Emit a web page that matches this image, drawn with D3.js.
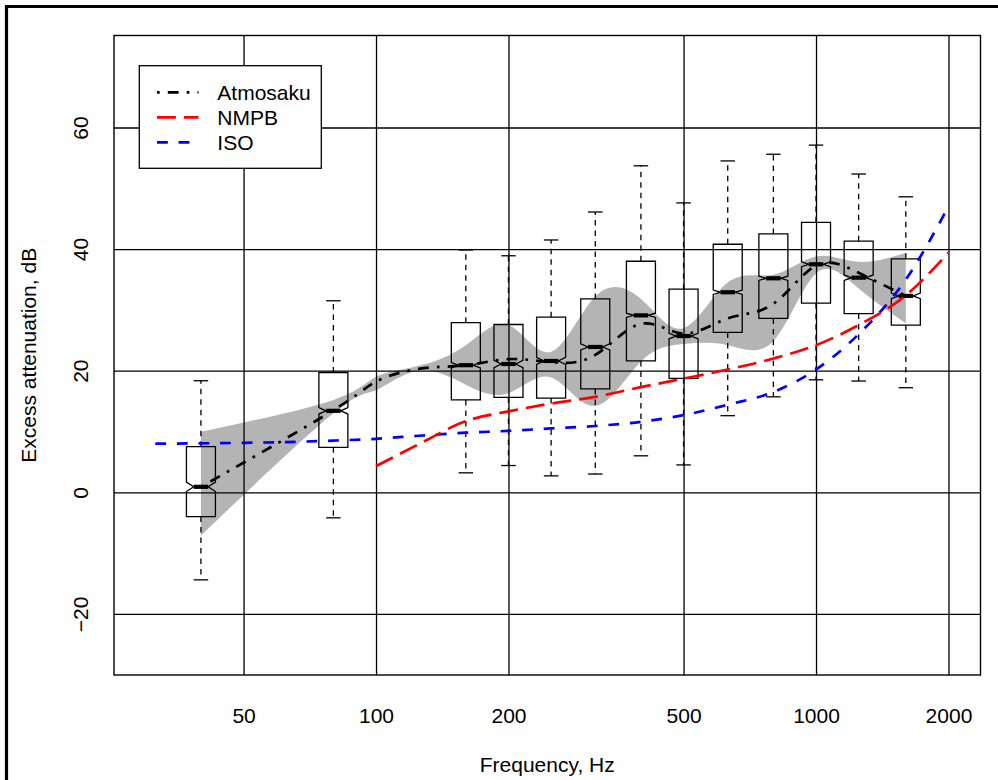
<!DOCTYPE html>
<html>
<head>
<meta charset="utf-8">
<script src="https://cdn.jsdelivr.net/npm/d3@7"></script>
<style>
  html, body { margin: 0; padding: 0; background: #fff; }
  svg { display: block; }
  text { font-family: "Liberation Sans", Arial, Helvetica, sans-serif; fill: #000; }
</style>
</head>
<body>
<svg id="chart" width="998" height="780"></svg>
<script>
// Measured excess attenuation per 1/3-octave band (notched boxplots)
const bandFreq    = [40, 80, 160, 200, 250, 315, 400, 500, 630, 800, 1000, 1250, 1600];
const whiskerLow  = [-14.4, -4.2, 3.2, 4.4, 2.7, 3.0, 6.0, 4.5, 12.6, 15.7, 18.5, 18.3, 17.2];
const q1          = [-4.0, 7.4, 15.2, 15.6, 15.5, 17.0, 21.6, 18.75, 26.3, 28.6, 31.1, 29.4, 27.5];
const median      = [0.9, 13.4, 20.9, 21.1, 21.6, 23.9, 29.1, 25.7, 32.9, 35.2, 37.5, 35.3, 32.3];
const q3          = [7.5, 19.7, 27.9, 27.6, 28.8, 31.8, 38.0, 33.4, 40.8, 42.5, 44.4, 41.3, 38.4];
const whiskerHigh = [18.35, 31.5, 39.85, 38.9, 41.5, 46.1, 53.7, 47.6, 54.5, 55.6, 57.1, 52.35, 48.6];
const notchHalf   = [0.77, 0.53, 0.44, 0.6, 0.58, 0.5, 0.35, 0.45, 0.35, 0.35, 0.4, 0.45, 0.45];

// Atmosaku model curve with its confidence band
const modelFreq     = [40, 80, 100, 125, 160, 200, 250, 315, 400, 500, 630, 800, 1000, 1250, 1600];
const atmosaku      = [0.9, 13.5, 18.2, 20.3, 20.9, 21.9, 21.4, 22.6, 27.7, 26.1, 28.6, 31.0, 37.3, 36.1, 32.3];
const atmosakuUpper = [9.96, 15.2, 19.0, 20.8, 24.2, 27.5, 23.1, 32.2, 31.8, 27.0, 34.5, 35.8, 38.8, 37.9, 39.4];
const atmosakuLower = [-7.1, 13.0, 16.8, 20.0, 17.7, 16.3, 18.9, 14.2, 21.5, 24.4, 24.2, 24.9, 36.0, 33.5, 27.8];

// Reference methods
const nmpbFreq = [100, 125, 160, 200, 250, 315, 400, 500, 630, 800, 1000, 1250, 1600, 2000];
const nmpb     = [4.3, 7.9, 11.7, 13.3, 14.6, 15.7, 17.3, 18.7, 20.2, 22.0, 24.2, 27.5, 32.4, 39.4];
const isoFreq  = [31.5, 40, 80, 100, 125, 160, 200, 250, 315, 400, 500, 630, 800, 1000, 1250, 1600, 2000];
const iso      = [8.0, 8.05, 8.5, 8.8, 9.3, 9.8, 10.1, 10.5, 10.9, 11.6, 12.7, 14.4, 16.5, 20.2, 26.0, 35.0, 47.0];

const xTicks = [50, 100, 200, 500, 1000, 2000];
const yTicks = [-20, 0, 20, 40, 60];
const legendLabels = ["Atmosaku", "NMPB", "ISO"];
const xTitle = "Frequency, Hz";
const yTitle = "Excess attenuation, dB";

// ---- layout ----
const plot = { left: 114, right: 980.5, top: 35.5, bottom: 675 };
const svg = d3.select("#chart");

const x = d3.scaleLog().domain([25.38, 2365]).range([plot.left, plot.right]);
const y = d3.scaleLinear().domain([-30.05, 75.13]).range([plot.bottom, plot.top]);

const LW = 2.7; // model/reference line width
const dotdash = [1 * LW, 3 * LW, 4 * LW, 3 * LW].join(",");
const longdash = [7 * LW, 3 * LW].join(",");
const dashed = [4 * LW, 4 * LW].join(",");

// outer figure frame
svg.append("path")
  .attr("d", "M6.5,782 V6.5 H1000")
  .attr("fill", "none").attr("stroke", "#000").attr("stroke-width", 3.2);

// confidence band
const bandData = modelFreq.map((f, i) => ({ f, lo: atmosakuLower[i], hi: atmosakuUpper[i] }));
svg.append("path")
  .datum(bandData)
  .attr("fill", "#b4b4b4")
  .attr("d", d3.area().curve(d3.curveNatural)
    .x(d => x(d.f)).y0(d => y(d.lo)).y1(d => y(d.hi)));

// grid (drawn with the axis generators, spanning the plot area)
const gx = svg.append("g")
  .attr("transform", `translate(0,${plot.bottom})`)
  .call(d3.axisBottom(x).tickValues(xTicks).tickFormat(d3.format("d"))
    .tickSizeInner(-(plot.bottom - plot.top)).tickSizeOuter(0).tickPadding(33));
gx.select(".domain").remove();
gx.selectAll("line").attr("stroke", "#000").attr("stroke-width", 1.3);
gx.selectAll("text").attr("font-size", 21).attr("font-family", null);

const gy = svg.append("g")
  .attr("transform", `translate(${plot.left},0)`)
  .call(d3.axisLeft(y).tickValues(yTicks).tickFormat(d => d < 0 ? "\u2212" + Math.abs(d) : d)
    .tickSizeInner(-(plot.right - plot.left)).tickSizeOuter(0));
gy.select(".domain").remove();
gy.selectAll("line").attr("stroke", "#000").attr("stroke-width", 1.3);
gy.selectAll("text")
  .attr("font-size", 21).attr("font-family", null)
  .attr("x", null).attr("dy", null)
  .attr("text-anchor", "middle")
  .attr("transform", "translate(-26,0) rotate(-90)");

// plot box
svg.append("rect")
  .attr("x", plot.left).attr("y", plot.top)
  .attr("width", plot.right - plot.left).attr("height", plot.bottom - plot.top)
  .attr("fill", "none").attr("stroke", "#000").attr("stroke-width", 1.4);

// notched boxplots
const hw = 14.5;
const boxes = bandFreq.map((f, i) => ({
  f, lo: whiskerLow[i], q1: q1[i], med: median[i], q3: q3[i], hi: whiskerHigh[i], n: notchHalf[i]
}));
const gb = svg.append("g");
boxes.forEach(b => {
  const cx = x(b.f);
  // whiskers and staples
  [[b.q3, b.hi], [b.q1, b.lo]].forEach(([a, c]) => {
    gb.append("line").attr("x1", cx).attr("x2", cx).attr("y1", y(a)).attr("y2", y(c))
      .attr("stroke", "#000").attr("stroke-width", 1.3).attr("stroke-dasharray", "5.5,5");
    gb.append("line").attr("x1", cx - hw / 2).attr("x2", cx + hw / 2).attr("y1", y(c)).attr("y2", y(c))
      .attr("stroke", "#000").attr("stroke-width", 1.3);
  });
  const pts = [
    [cx - hw, y(b.q1)], [cx + hw, y(b.q1)], [cx + hw, y(b.med - b.n)], [cx + hw / 2, y(b.med)],
    [cx + hw, y(b.med + b.n)], [cx + hw, y(b.q3)], [cx - hw, y(b.q3)], [cx - hw, y(b.med + b.n)],
    [cx - hw / 2, y(b.med)], [cx - hw, y(b.med - b.n)]
  ];
  gb.append("polygon").attr("points", pts.map(p => p.join(",")).join(" "))
    .attr("fill", "none").attr("stroke", "#000").attr("stroke-width", 1.3).attr("stroke-linejoin", "miter");
  gb.append("line").attr("x1", cx - hw / 2).attr("x2", cx + hw / 2).attr("y1", y(b.med)).attr("y2", y(b.med))
    .attr("stroke", "#000").attr("stroke-width", 4.2);
});

// reference method curves
const refLine = d3.line().curve(d3.curveMonotoneX).x(d => x(d[0])).y(d => y(d[1]));
svg.append("path").datum(isoFreq.map((f, i) => [f, iso[i]]))
  .attr("d", refLine).attr("fill", "none").attr("stroke", "#0000ff")
  .attr("stroke-width", LW).attr("stroke-dasharray", dashed);
svg.append("path").datum(nmpbFreq.map((f, i) => [f, nmpb[i]]))
  .attr("d", refLine).attr("fill", "none").attr("stroke", "#ff0000")
  .attr("stroke-width", LW).attr("stroke-dasharray", longdash);

// Atmosaku model curve
svg.append("path").datum(modelFreq.map((f, i) => [f, atmosaku[i]]))
  .attr("d", d3.line().curve(d3.curveNatural).x(d => x(d[0])).y(d => y(d[1])))
  .attr("fill", "none").attr("stroke", "#000")
  .attr("stroke-width", LW).attr("stroke-dasharray", dotdash);

// axis titles
svg.append("text").attr("x", (plot.left + plot.right) / 2).attr("y", 772)
  .attr("text-anchor", "middle").attr("font-size", 21).text(xTitle);
svg.append("text").attr("transform", `translate(36,${(plot.top + plot.bottom) / 2}) rotate(-90)`)
  .attr("text-anchor", "middle").attr("font-size", 21).text(yTitle);

// legend
const legend = svg.append("g");
legend.append("rect").attr("x", 139.3).attr("y", 65.7).attr("width", 182).attr("height", 102.6)
  .attr("fill", "#fff").attr("stroke", "#000").attr("stroke-width", 1.3);
const legendStyles = [
  { color: "#000", dash: dotdash },
  { color: "#ff0000", dash: longdash },
  { color: "#0000ff", dash: dashed }
];
legendLabels.forEach((lab, i) => {
  const cy = 92.3 + i * 25;
  legend.append("line").attr("x1", 157).attr("x2", 198.5).attr("y1", cy).attr("y2", cy)
    .attr("stroke", legendStyles[i].color).attr("stroke-width", LW)
    .attr("stroke-dasharray", legendStyles[i].dash);
  legend.append("text").attr("x", 217.3).attr("y", cy + 7.5).attr("font-size", 21).text(lab);
});
</script>
</body>
</html>
